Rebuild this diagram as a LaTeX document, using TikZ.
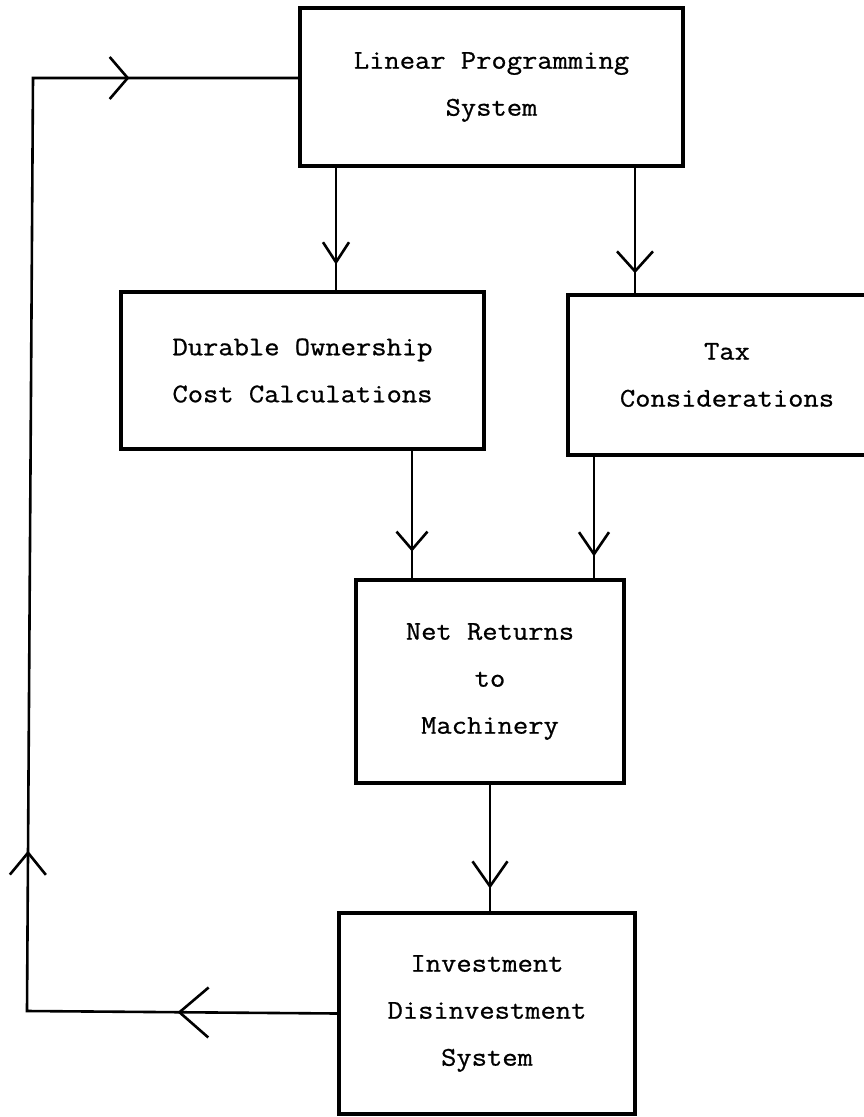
\documentclass[tikz,border=0pt]{standalone}
\usepackage{fontspec}
\setmonofont[FakeStretch=1.1,FakeBold=0.8]{Latin Modern Mono}
\usetikzlibrary{arrows.meta,decorations.markings}
\tikzset{
  box/.style={draw=black, line width=3.2pt, rectangle, inner sep=0pt, align=center,
    font=\ttfamily\fontsize{27}{47}\selectfont},
  conn/.style={draw=black, line width=2.6pt},
  vee/.style n args={3}{postaction={decorate}, decoration={markings,
    mark=at position #1 with {\arrow{Straight Barb[length=#2pt,width=#3pt,line width=2.6pt]}}}}
}
\begin{document}
\begin{tikzpicture}[x=1pt,y=-1pt]
\clip (0,0) rectangle (864,1117);
\fill[white] (0,0) rectangle (864,1117);

\node[box, minimum width=383pt, minimum height=158pt] (lp) at (491.5,87) {Linear Programming\\System};
\node[box, minimum width=363pt, minimum height=157pt] (dur) at (302.5,370.5) {Durable Ownership\\Cost Calculations};
\node[box, minimum width=318pt, minimum height=160pt] (tax) at (727,375) {Tax\\Considerations};
\node[box, minimum width=268pt, minimum height=203pt] (net) at (490,681.5) {Net Returns\\to\\Machinery};
\node[box, minimum width=296pt, minimum height=201pt] (inv) at (487,1013.5) {Investment\\Disinvestment\\System};

\coordinate (c1) at (336,0);
\coordinate (c2) at (635,0);
\coordinate (c3) at (412,0);
\coordinate (c4) at (594,0);
\coordinate (c5) at (490,0);
\coordinate (bl) at (27,1011);
\coordinate (tl) at (33,78);

\draw[conn, vee={0.79}{20}{26}] (c1 |- lp.south) -- (c1 |- dur.north);
\draw[conn, vee={0.84}{20}{36}] (c2 |- lp.south) -- (c2 |- tax.north);
\draw[conn, vee={0.79}{18}{31}] (c3 |- dur.south) -- (c3 |- net.north);
\draw[conn, vee={0.82}{22}{30}] (c4 |- tax.south) -- (c4 |- net.north);
\draw[conn, vee={0.82}{25}{35}] (c5 |- net.south) -- (c5 |- inv.north);

\draw[conn, line join=miter, postaction={decorate}, decoration={markings,
    mark=at position 0.106 with {\arrow{Straight Barb[length=29pt,width=50pt,line width=2.6pt]}},
    mark=at position 0.312 with {\arrow{Straight Barb[length=22pt,width=36pt,line width=2.6pt]}},
    mark=at position 0.888 with {\arrow{Straight Barb[length=18pt,width=42pt,line width=2.6pt]}}}]
  (inv.west) -- (bl) -- (tl) -- (tl -| lp.west);
\end{tikzpicture}
\end{document}
